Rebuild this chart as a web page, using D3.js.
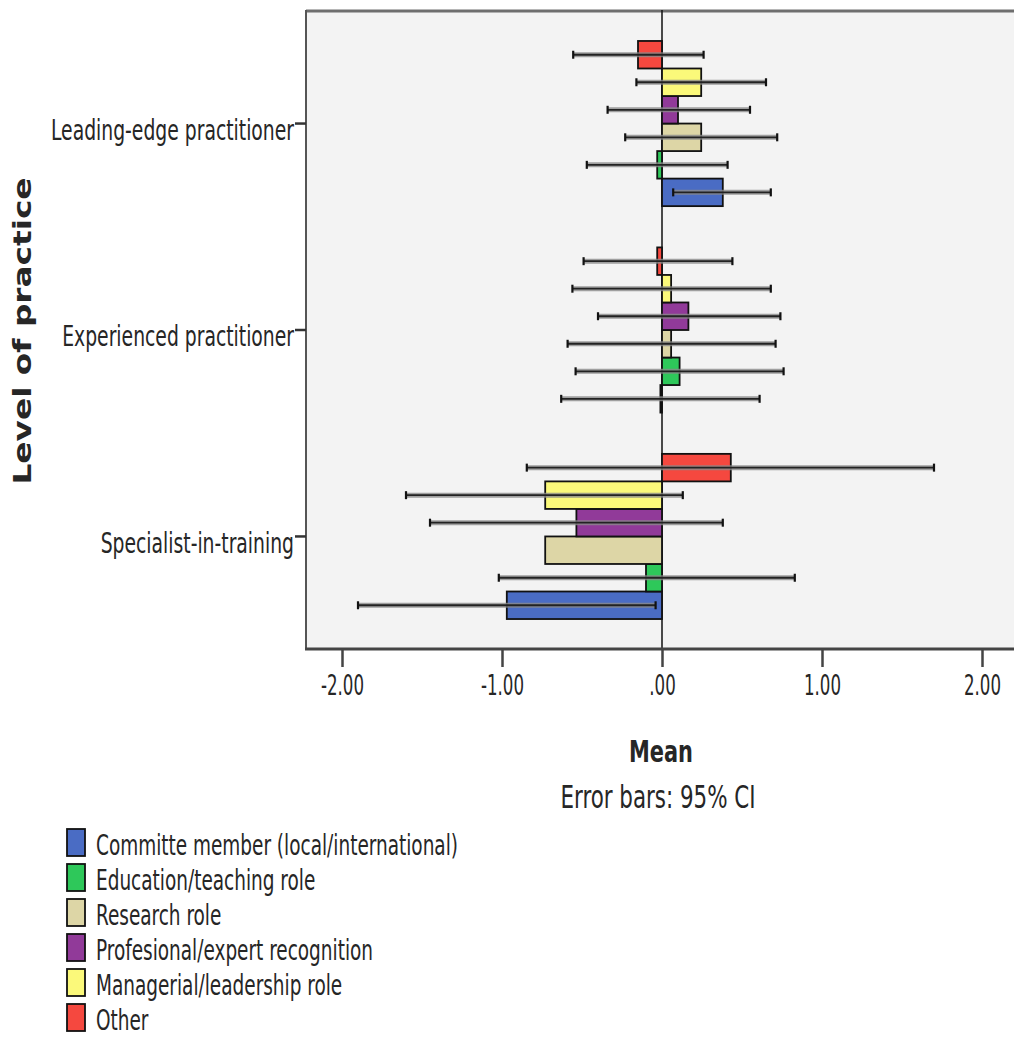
<!DOCTYPE html>
<html>
<head>
<meta charset="utf-8">
<script src="https://cdn.jsdelivr.net/npm/d3@7"></script>
<style>
  html, body { margin: 0; padding: 0; background: #fff; }
  svg { display: block; }
  text { font-family: "Liberation Sans Narrow", "DejaVu Sans Condensed", "Liberation Sans", sans-serif; fill: #262626; }
</style>
</head>
<body>
<svg id="chart" width="1014" height="1037"></svg>
<script>
// ---- data ----
const levels = ["Leading-edge practitioner", "Experienced practitioner", "Specialist-in-training"];
const series = [
  "Committe member (local/international)",
  "Education/teaching role",
  "Research role",
  "Profesional/expert recognition",
  "Managerial/leadership role",
  "Other"
];
const seriesColors = ["#4a6cc4", "#2ec85a", "#ddd6a6", "#913a99", "#fbf97a", "#f5483f"];

// means and 95% CI per level (same order as levels)
const committeMean = [0.38, -0.01, -0.97];
const committeLo   = [0.07, -0.63, -1.90];
const committeHi   = [0.68,  0.61, -0.04];

const educationMean = [-0.03, 0.11, -0.10];
const educationLo   = [-0.47, -0.54, -1.02];
const educationHi   = [ 0.41,  0.76,  0.83];

const researchMean = [0.245, 0.057, -0.73];
const researchLo   = [-0.23, -0.59, null];
const researchHi   = [ 0.72,  0.71, null];

const profMean = [0.10, 0.165, -0.535];
const profLo   = [-0.34, -0.40, -1.45];
const profHi   = [ 0.55,  0.74,  0.38];

const managerialMean = [0.245, 0.057, -0.73];
const managerialLo   = [-0.16, -0.56, -1.60];
const managerialHi   = [ 0.65,  0.68,  0.13];

const otherMean = [-0.15, -0.03, 0.43];
const otherLo   = [-0.555, -0.49, -0.845];
const otherHi   = [ 0.26,  0.44,  1.70];

const xTicks = [-2, -1, 0, 1, 2];

const means = [committeMean, educationMean, researchMean, profMean, managerialMean, otherMean];
const lows  = [committeLo, educationLo, researchLo, profLo, managerialLo, otherLo];
const highs = [committeHi, educationHi, researchHi, profHi, managerialHi, otherHi];

const rows = [];
levels.forEach((lv, li) => {
  series.forEach((s, si) => {
    rows.push({ level: lv, series: s, color: seriesColors[si],
      mean: means[si][li], lo: lows[si][li], hi: highs[si][li] });
  });
});

// ---- layout ----
const svg = d3.select('#chart');
const plot = { left: 306, right: 1020, top: 10, bottom: 650 };

const x = d3.scaleLinear().domain([-2.225, 2.2375]).range([plot.left, plot.right]);
const y = d3.scaleBand().domain(levels).range([plot.top, plot.bottom])
  .paddingInner(0.2).paddingOuter(0.15);
// Other sits on top inside each group, Committe at the bottom
const yIn = d3.scaleBand().domain(series.slice().reverse()).range([0, y.bandwidth()]);

// SPSS style labels: plain hyphen, no leading zero
const fmt2 = d3.formatLocale({ decimal: '.', thousands: ',', grouping: [3], currency: ['', ''], minus: '-' }).format('.2f');

// squeeze text horizontally like the condensed original
function squeeze(sel, k) {
  sel.each(function () {
    const n = this.getComputedTextLength();
    d3.select(this).attr('textLength', n * k).attr('lengthAdjust', 'spacingAndGlyphs');
  });
}
function factor(sel, w) { return w / sel.node().getComputedTextLength(); }

// plot background
svg.append('rect')
  .attr('x', plot.left).attr('y', plot.top)
  .attr('width', plot.right - plot.left).attr('height', plot.bottom - plot.top)
  .attr('fill', '#f3f3f3');

// top frame line
svg.append('line')
  .attr('x1', plot.left).attr('x2', plot.right)
  .attr('y1', plot.top + 1).attr('y2', plot.top + 1)
  .attr('stroke', '#6e6e6e').attr('stroke-width', 3);

// zero reference line
svg.append('line')
  .attr('x1', x(0)).attr('x2', x(0))
  .attr('y1', plot.top).attr('y2', plot.bottom)
  .attr('stroke', '#111').attr('stroke-width', 1.5);

// bars
const g = svg.append('g');
const barG = g.selectAll('g.bar').data(rows).join('g').attr('class', 'bar')
  .attr('transform', d => `translate(0,${y(d.level) + yIn(d.series)})`);

barG.append('rect')
  .attr('x', d => x(Math.min(0, d.mean)))
  .attr('y', 0)
  .attr('width', d => Math.abs(x(d.mean) - x(0)))
  .attr('height', yIn.bandwidth())
  .attr('fill', d => d.color)
  .attr('stroke', '#111').attr('stroke-width', 1.8);

// error bars
const eb = barG.filter(d => d.lo != null);
const mid = yIn.bandwidth() / 2;
eb.append('line')
  .attr('x1', d => x(d.lo)).attr('x2', d => x(d.hi))
  .attr('y1', mid).attr('y2', mid)
  .attr('stroke', '#8a8a8a').attr('stroke-width', 5).attr('stroke-opacity', 0.8);
eb.append('line')
  .attr('x1', d => x(d.lo)).attr('x2', d => x(d.hi))
  .attr('y1', mid).attr('y2', mid)
  .attr('stroke', '#222').attr('stroke-width', 1.8);
eb.selectAll('line.cap').data(d => [d.lo, d.hi]).join('line').attr('class', 'cap')
  .attr('x1', v => x(v)).attr('x2', v => x(v))
  .attr('y1', mid - 4).attr('y2', mid + 4)
  .attr('stroke', '#111').attr('stroke-width', 2.2);

// left axis line and ticks
svg.append('line')
  .attr('x1', plot.left).attr('x2', plot.left)
  .attr('y1', plot.top).attr('y2', plot.bottom)
  .attr('stroke', '#555').attr('stroke-width', 2);

const yAxis = svg.append('g')
  .attr('transform', `translate(${plot.left},0)`)
  .call(d3.axisLeft(y).tickSize(11).tickPadding(1));
yAxis.select('.domain').remove();
yAxis.selectAll('.tick line').attr('stroke', '#333').attr('stroke-width', 2.5);
yAxis.selectAll('.tick text')
  .attr('font-size', 28).attr('font-family', null).attr('fill', '#262626')
  .attr('dy', '0.58em');
{
  const t = yAxis.selectAll('.tick text');
  const k = factor(t.filter(d => d === levels[0]), 243);
  squeeze(t, k);
}

// bottom axis
const xAxis = svg.append('g')
  .attr('transform', `translate(0,${plot.bottom - 1})`)
  .call(d3.axisBottom(x).tickValues(xTicks).tickSize(18).tickPadding(8)
    .tickFormat(v => v === 0 ? '.00' : fmt2(v)));
xAxis.select('.domain').remove();
svg.append('line')
  .attr('x1', plot.left - 1).attr('x2', plot.right)
  .attr('y1', plot.bottom - 1).attr('y2', plot.bottom - 1)
  .attr('stroke', '#444').attr('stroke-width', 3);
xAxis.selectAll('.tick line').attr('stroke', '#444').attr('stroke-width', 2.5);
xAxis.selectAll('.tick text')
  .attr('font-size', 28).attr('font-family', null).attr('fill', '#262626');
{
  const t = xAxis.selectAll('.tick text');
  const k = factor(t.filter(d => d === 1), 37);
  squeeze(t, k);
}

// y title
const yTitle = svg.append('text')
  .attr('transform', 'translate(31,331) rotate(-90)')
  .attr('text-anchor', 'middle')
  .attr('font-size', 24).attr('font-weight', 'bold')
  .style('font-family', '"DejaVu Sans", "Liberation Sans", sans-serif')
  .attr('fill', '#111')
  .text('Level of practice');
yTitle.attr('textLength', 307).attr('lengthAdjust', 'spacingAndGlyphs');

// x titles
const meanT = svg.append('text')
  .attr('x', 661).attr('y', 762).attr('text-anchor', 'middle')
  .attr('font-size', 30).attr('font-weight', 'bold').attr('fill', '#111')
  .text('Mean');
squeeze(meanT, factor(meanT, 64));

const ebT = svg.append('text')
  .attr('x', 658).attr('y', 808).attr('text-anchor', 'middle')
  .attr('font-size', 32)
  .text('Error bars: 95% CI');
squeeze(ebT, factor(ebT, 195));

// legend
const legend = svg.append('g').attr('transform', 'translate(67,829)');
const li = legend.selectAll('g').data(series).join('g')
  .attr('transform', (d, i) => `translate(0,${i * 35})`);
li.append('rect')
  .attr('width', 18).attr('height', 27)
  .attr('fill', (d, i) => seriesColors[i])
  .attr('stroke', '#111').attr('stroke-width', 1.8);
const lt = li.append('text')
  .attr('x', 29).attr('y', 26)
  .attr('font-size', 28)
  .text(d => d);
squeeze(lt, factor(lt.filter(d => d === series[0]), 362));
</script>
</body>
</html>
